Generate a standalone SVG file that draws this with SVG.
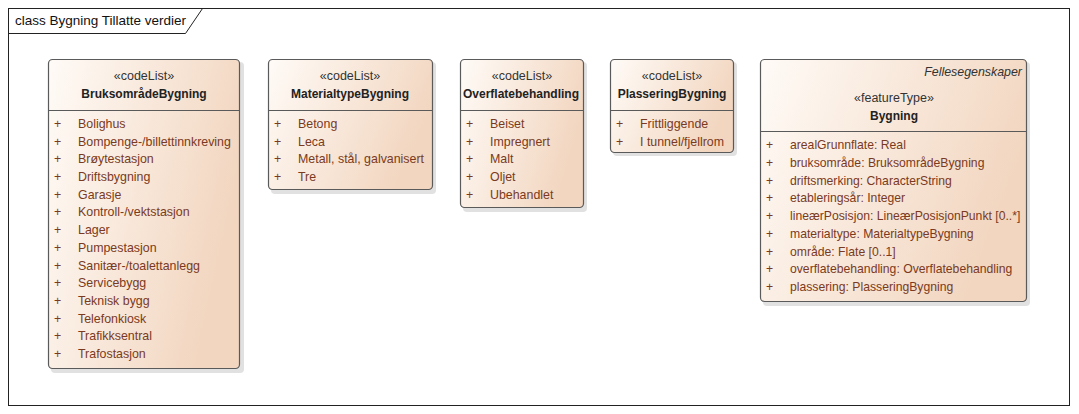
<svg xmlns="http://www.w3.org/2000/svg" width="1079" height="414" viewBox="0 0 1079 414">
<defs>
<linearGradient id="g" x1="0" y1="0" x2="1" y2="0.35">
<stop offset="0" stop-color="#FFFBF7"/>
<stop offset="1" stop-color="#F2D6C0"/>
</linearGradient>
<style>
.box{fill:url(#g);stroke:#5a5a5a;stroke-width:1.2}
.sh{fill:#c8c8c8;opacity:0.55}
.sep{stroke:#5a5a5a;stroke-width:1.2}
.st{font-family:"Liberation Sans",Arial,sans-serif;font-size:12.5px;fill:#333;text-anchor:middle}
.nm{font-family:"Liberation Sans",Arial,sans-serif;font-size:12px;font-weight:bold;fill:#222;text-anchor:middle}
.at{font-family:"Liberation Sans",Arial,sans-serif;font-size:12.4px;fill:#7a3a22}
.at2{font-family:"Liberation Sans",Arial,sans-serif;font-size:12.2px;fill:#7a3a22}
.it{font-family:"Liberation Sans",Arial,sans-serif;font-size:12.4px;font-style:italic;fill:#333;text-anchor:end}
.fr{fill:#fff;stroke:#222;stroke-width:1}
.tt{font-family:"Liberation Sans",Arial,sans-serif;font-size:13.5px;fill:#111}
</style>
</defs>
<rect x="0" y="0" width="1079" height="414" fill="#fff"/>
<g id="frame">
<rect class="fr" x="8.5" y="8.5" width="1061" height="397"/>
<path d="M8.5 33.5 H185.5 L202.5 8.5" fill="none" stroke="#222" stroke-width="1"/>
<text class="tt" x="15" y="25">class Bygning Tillatte verdier</text>
</g>
<g id="connectors"></g>
<g id="BruksomradeBygning">
<rect class="sh" x="51" y="62" width="193" height="311" rx="4"/>
<rect class="box" x="48.5" y="59.5" width="191" height="309" rx="4"/>
<line class="sep" x1="48.5" y1="110.5" x2="239.5" y2="110.5"/>
<text class="st" x="144" y="80">«codeList»</text>
<text class="nm" x="144" y="98">BruksområdeBygning</text>
<g class="at">
<text x="54" y="128">+</text><text x="78" y="128">Bolighus</text>
<text x="54" y="146">+</text><text x="78" y="146">Bompenge-/billettinnkreving</text>
<text x="54" y="163">+</text><text x="78" y="163">Brøytestasjon</text>
<text x="54" y="181">+</text><text x="78" y="181">Driftsbygning</text>
<text x="54" y="199">+</text><text x="78" y="199">Garasje</text>
<text x="54" y="216">+</text><text x="78" y="216">Kontroll-/vektstasjon</text>
<text x="54" y="234">+</text><text x="78" y="234">Lager</text>
<text x="54" y="252">+</text><text x="78" y="252">Pumpestasjon</text>
<text x="54" y="270">+</text><text x="78" y="270">Sanitær-/toalettanlegg</text>
<text x="54" y="287">+</text><text x="78" y="287">Servicebygg</text>
<text x="54" y="305">+</text><text x="78" y="305">Teknisk bygg</text>
<text x="54" y="323">+</text><text x="78" y="323">Telefonkiosk</text>
<text x="54" y="340">+</text><text x="78" y="340">Trafikksentral</text>
<text x="54" y="358">+</text><text x="78" y="358">Trafostasjon</text>
</g>
</g>
<g id="MaterialtypeBygning">
<rect class="sh" x="271" y="62" width="165" height="132" rx="4"/>
<rect class="box" x="268.5" y="59.5" width="164" height="130" rx="4"/>
<line class="sep" x1="268.5" y1="110.5" x2="432.5" y2="110.5"/>
<text class="st" x="350" y="80">«codeList»</text>
<text class="nm" x="350" y="98">MaterialtypeBygning</text>
<g class="at">
<text x="274" y="128">+</text><text x="298" y="128">Betong</text>
<text x="274" y="146">+</text><text x="298" y="146">Leca</text>
<text x="274" y="163">+</text><text x="298" y="163">Metall, stål, galvanisert</text>
<text x="274" y="181">+</text><text x="298" y="181">Tre</text>
</g>
</g>
<g id="Overflatebehandling">
<rect class="sh" x="463" y="62" width="124" height="150" rx="4"/>
<rect class="box" x="460.5" y="59.5" width="123" height="148" rx="4"/>
<line class="sep" x1="460.5" y1="110.5" x2="583.5" y2="110.5"/>
<text class="st" x="522" y="80">«codeList»</text>
<text class="nm" x="521" y="98">Overflatebehandling</text>
<g class="at">
<text x="466" y="128">+</text><text x="490" y="128">Beiset</text>
<text x="466" y="146">+</text><text x="490" y="146">Impregnert</text>
<text x="466" y="163">+</text><text x="490" y="163">Malt</text>
<text x="466" y="181">+</text><text x="490" y="181">Oljet</text>
<text x="466" y="199">+</text><text x="490" y="199">Ubehandlet</text>
</g>
</g>
<g id="PlasseringBygning">
<rect class="sh" x="613" y="62" width="124" height="94" rx="4"/>
<rect class="box" x="610.5" y="59.5" width="123" height="93" rx="4"/>
<line class="sep" x1="610.5" y1="110.5" x2="733.5" y2="110.5"/>
<text class="st" x="672" y="80">«codeList»</text>
<text class="nm" x="672" y="98">PlasseringBygning</text>
<g class="at">
<text x="616" y="128">+</text><text x="640" y="128">Frittliggende</text>
<text x="616" y="146">+</text><text x="640" y="146">I tunnel/fjellrom</text>
</g>
</g>
<g id="Bygning">
<rect class="sh" x="763" y="62" width="267" height="244" rx="4"/>
<rect class="box" x="760.5" y="59.5" width="266" height="242" rx="4"/>
<line class="sep" x1="760.5" y1="131.5" x2="1026.5" y2="131.5"/>
<text class="it" x="1022" y="76">Fellesegenskaper</text>
<text class="st" x="894" y="102">«featureType»</text>
<text class="nm" x="894" y="120">Bygning</text>
<g class="at2">
<text x="766" y="149">+</text><text x="790" y="149">arealGrunnflate: Real</text>
<text x="766" y="167">+</text><text x="790" y="167">bruksområde: BruksområdeBygning</text>
<text x="766" y="185">+</text><text x="790" y="185">driftsmerking: CharacterString</text>
<text x="766" y="202">+</text><text x="790" y="202">etableringsår: Integer</text>
<text x="766" y="220">+</text><text x="790" y="220">lineærPosisjon: LineærPosisjonPunkt [0..*]</text>
<text x="766" y="238">+</text><text x="790" y="238">materialtype: MaterialtypeBygning</text>
<text x="766" y="256">+</text><text x="790" y="256">område: Flate [0..1]</text>
<text x="766" y="273">+</text><text x="790" y="273">overflatebehandling: Overflatebehandling</text>
<text x="766" y="291">+</text><text x="790" y="291">plassering: PlasseringBygning</text>
</g>
</g>
</svg>
